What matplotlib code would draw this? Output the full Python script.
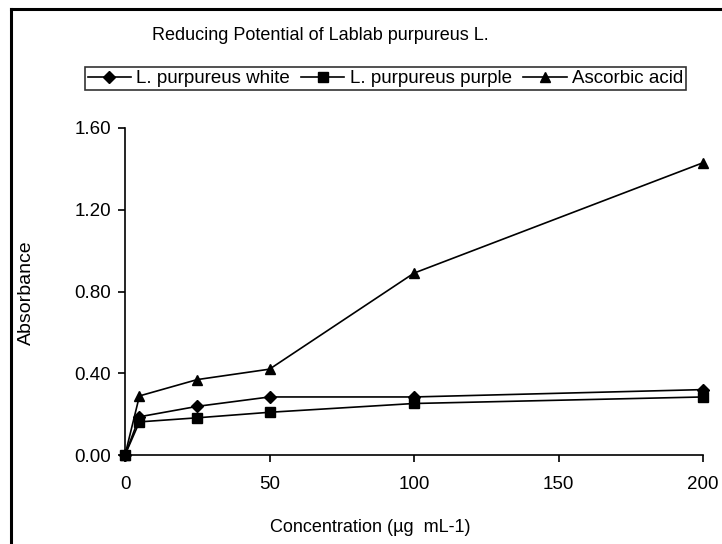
import matplotlib
matplotlib.use("Agg")
import matplotlib.pyplot as plt
from matplotlib.lines import Line2D

plt.rcParams['font.family'] = ['Liberation Sans', 'DejaVu Sans']

concentration = [0, 5, 25, 50, 100, 200]
white = [0.00, 0.187, 0.238, 0.284, 0.284, 0.32]
purple = [0.00, 0.162, 0.182, 0.209, 0.252, 0.284]
ascorbic = [0.00, 0.289, 0.369, 0.42, 0.89, 1.43]
series_labels = ["L. purpureus white", "L. purpureus purple", "Ascorbic acid"]
xticks = [0, 50, 100, 150, 200]
yticks = [0.0, 0.4, 0.8, 1.2, 1.6]

W, H = 722, 544
fig = plt.figure(figsize=(W / 100, H / 100), dpi=100)
ax = fig.add_axes([125 / W, 1 - 455 / H, (703 - 125) / W, (455 - 128) / H])

styles = [dict(marker='D', markersize=6.5), dict(marker='s', markersize=6.5), dict(marker='^', markersize=7.5)]
handles = []
for ys, lab, st in zip([white, purple, ascorbic], series_labels, styles):
    h, = ax.plot(concentration, ys, color='black', lw=1.2, markerfacecolor='black',
                 markeredgecolor='black', label=lab, clip_on=False, **st)
    handles.append(h)

ax.set_xlim(0, 200)
ax.set_ylim(0, 1.6)
ax.set_xticks(xticks)
ax.set_yticks(yticks)
ax.set_yticklabels([f"{v:.2f}" for v in yticks])
for s in ['top', 'right']:
    ax.spines[s].set_visible(False)
for s in ['left', 'bottom']:
    ax.spines[s].set_linewidth(1.2)
ax.tick_params(direction='out', length=5, width=1.2, labelsize=13.5)
ax.tick_params(axis='y', pad=5)
ax.tick_params(axis='x', pad=10)
ax.set_xlabel("Concentration (µg  mL-1)", fontsize=13, va='center', ha='center')
ax.xaxis.set_label_coords((370 - 125) / 578, -(528 - 455) / 327)
ax.set_ylabel("Absorbance", fontsize=14, va='center', ha='center')
ax.yaxis.set_label_coords(-(125 - 26) / 578, (455 - 293) / 327)

fig.text(152 / W, 1 - 35 / H, "Reducing Potential of Lablab purpureus L.", fontsize=13,
         ha='left', va='center')

leg = fig.legend(handles=handles, labels=series_labels, ncol=3, loc='center',
                 bbox_to_anchor=((84 + 687) / 2 / W, 1 - 78.5 / H), fontsize=13.5,
                 frameon=True, fancybox=False, edgecolor='black', handlelength=2.3,
                 handletextpad=0.3, columnspacing=0.6, borderpad=0.15, borderaxespad=0)
leg.get_frame().set_linewidth(1.2)

fig.add_artist(Line2D([11 / W, 11 / W], [0, 1 - 9 / H], color='black', lw=2.2,
                      transform=fig.transFigure))
fig.add_artist(Line2D([11 / W, 1], [1 - 9 / H, 1 - 9 / H], color='black', lw=2.2,
                      transform=fig.transFigure))

fig.savefig("out.png", dpi=100)
